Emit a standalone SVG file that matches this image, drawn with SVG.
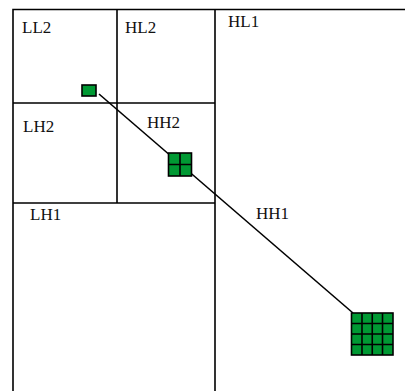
<svg xmlns="http://www.w3.org/2000/svg" width="405" height="391" viewBox="0 0 405 391">
<style>
.b{fill:none;stroke:#000;stroke-width:1.6}
.g{fill:#009933;stroke:#000;stroke-width:1.6}
.gl{stroke:#000;stroke-width:1.6}
.t{font-family:"Liberation Serif",serif;font-size:17px;fill:#111}
</style>
<rect width="405" height="391" fill="#fff"/>
<g id="grid">
<path class="b" d="M13,391 V9.5 H405 M215,9.5 V391 M117,9.5 V203 M13,103 H215 M13,203 H215"/>
</g>
<g id="connectors">
<line class="gl" x1="99" y1="94" x2="353" y2="313"/>
</g>
<g id="LL2"><text class="t" x="22" y="33">LL2</text></g>
<g id="HL2"><text class="t" x="125" y="33">HL2</text></g>
<g id="LH2"><text class="t" x="23" y="132">LH2</text></g>
<g id="HH2"><text class="t" x="147" y="128">HH2</text></g>
<g id="HL1"><text class="t" x="228" y="27">HL1</text></g>
<g id="LH1"><text class="t" x="30" y="220">LH1</text></g>
<g id="HH1"><text class="t" x="256" y="219">HH1</text></g>
<g id="box1"><rect class="g" x="82" y="85" width="14" height="11"/></g>
<g id="box2">
<rect class="g" x="168.5" y="153" width="23" height="23"/>
<path class="gl" d="M180,153 V176 M168.5,164.5 H191.5"/>
</g>
<g id="box3">
<rect class="g" x="351.5" y="313" width="41.5" height="42"/>
<path class="gl" d="M362,313 V355 M372.25,313 V355 M382.5,313 V355 M351.5,323.5 H393 M351.5,334 H393 M351.5,344.5 H393"/>
</g>
</svg>
